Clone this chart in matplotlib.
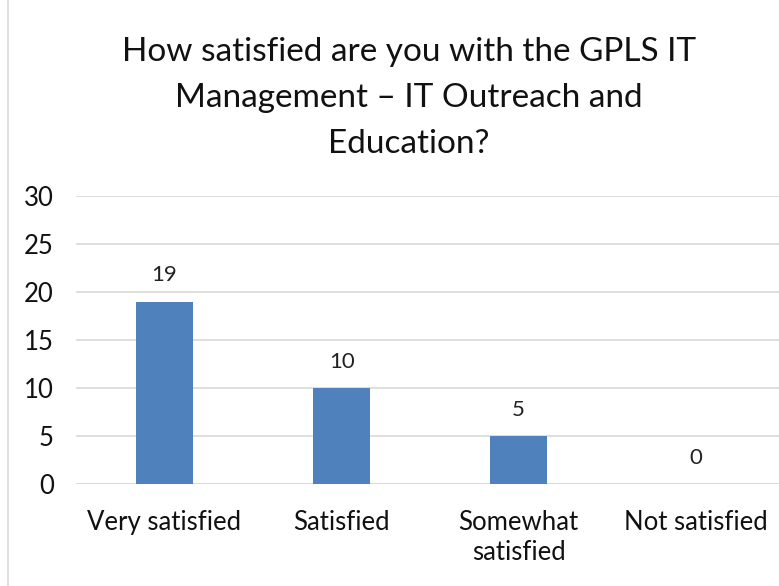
import matplotlib.pyplot as plt
from matplotlib.lines import Line2D

categories = ["Very satisfied", "Satisfied", "Somewhat\nsatisfied", "Not satisfied"]
counts = [19, 10, 5, 0]
yticks = [0, 5, 10, 15, 20, 25, 30]

plt.rcParams['font.family'] = ['Lato', 'DejaVu Sans']

fig = plt.figure(figsize=(7.79, 5.86), dpi=100)
ax = fig.add_axes([76 / 779, (586 - 484) / 586, (779 - 76) / 779, 288 / 586])

x = list(range(len(categories)))
ax.bar(x, counts, width=0.32, color='#4F81BD', zorder=3)
for xi, v in zip(x, counts):
    ax.text(xi, v + 1.7, str(v), ha='center', va='bottom', fontsize=16, color='#222222')

ax.set_xlim(-0.5, 3.47)
ax.set_ylim(0, 30)
ax.set_yticks(yticks)
ax.set_xticks(x)
ax.set_xticklabels(categories, fontsize=18.5, color='#111111', linespacing=1.25)
ax.tick_params(axis='y', labelsize=18.5, colors='#111111', length=0, pad=16)
ax.tick_params(axis='x', length=0, pad=19)
ax.grid(axis='y', color='#D9D9D9', linewidth=1.2, zorder=0)
for s in ax.spines.values():
    s.set_visible(False)
ax.axhline(0, color='#D9D9D9', linewidth=1.2, zorder=2)

fig.text(0.525, 0.937, "How satisfied are you with the GPLS IT\nManagement \u2013 IT Outreach and\nEducation?",
         ha='center', va='top', fontsize=24, color='#111111', linespacing=1.66)

fig.add_artist(Line2D([8 / 779, 8 / 779], [0, 1], color='#D9D9D9', linewidth=1.2))

fig.savefig('out.png', dpi=100)
